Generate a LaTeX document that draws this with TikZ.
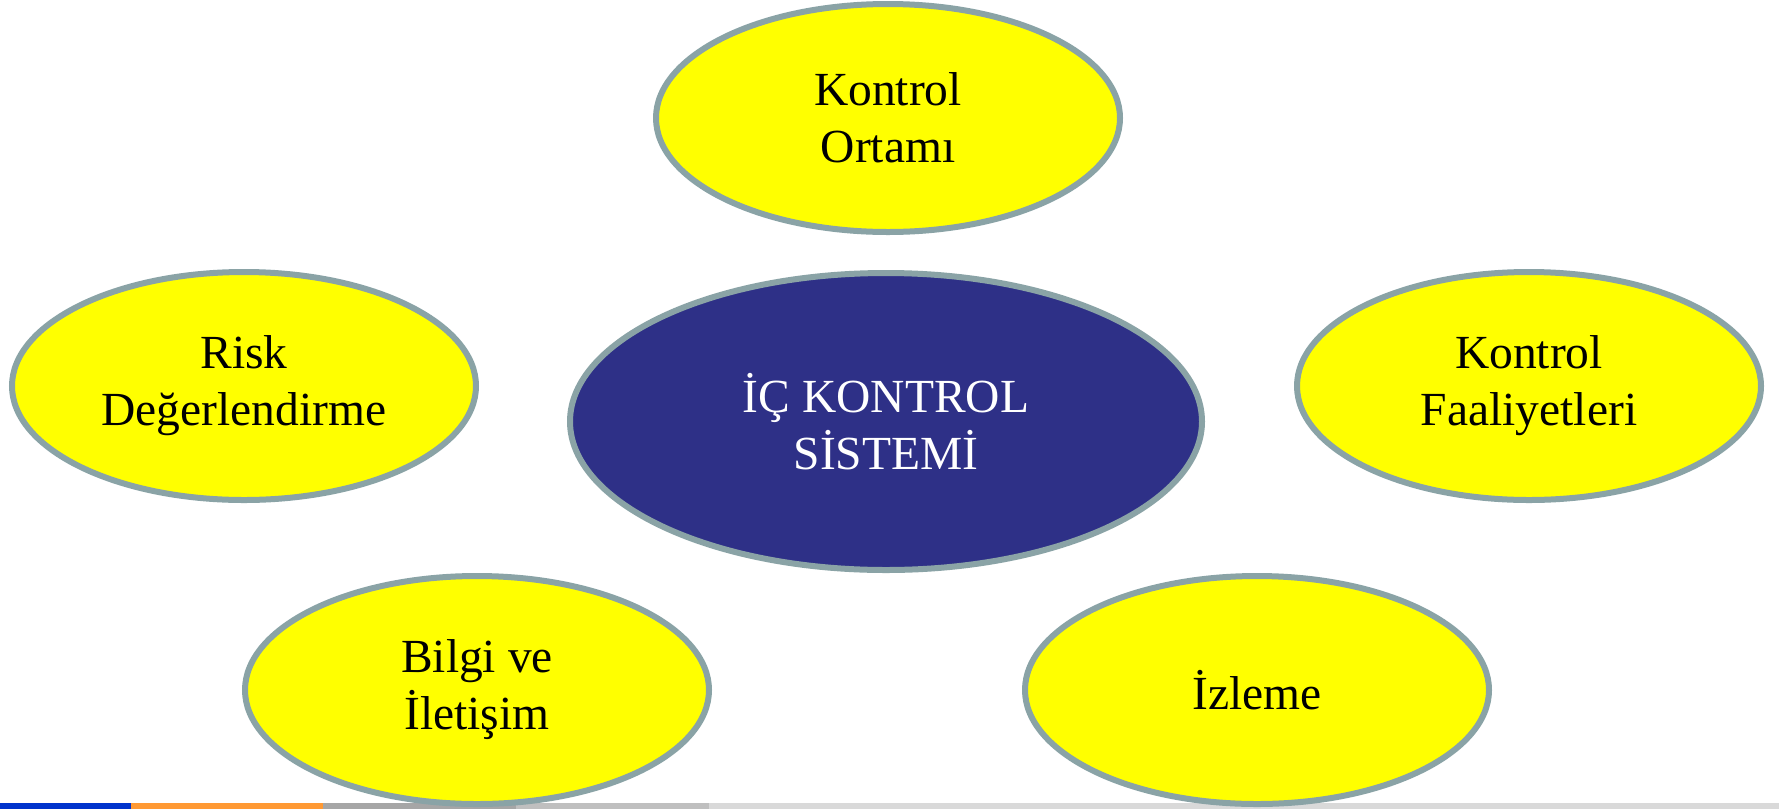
\documentclass[tikz,border=0pt]{standalone}
\usepackage{fontspec}
\setmainfont{Liberation Serif}
\usetikzlibrary{shapes.geometric}
\definecolor{rimc}{HTML}{8AA3A6}
\definecolor{yelc}{HTML}{FFFF00}
\definecolor{navyc}{HTML}{2E3087}
\definecolor{barblue}{HTML}{0033CC}
\definecolor{barorange}{HTML}{FF9933}
\definecolor{bargray}{HTML}{A6A6A6}
\definecolor{bargrayb}{HTML}{BFBFBF}
\definecolor{bargrayc}{HTML}{D9D9D9}
\tikzset{
  oval/.style={ellipse, draw=rimc, line width=6pt, inner sep=0pt, align=center,
    font=\fontsize{47.5}{57}\selectfont},
  sideoval/.style={oval, fill=yelc, text=black, minimum width=464pt, minimum height=228pt},
  coreoval/.style={oval, fill=navyc, text=white, minimum width=632pt, minimum height=297pt},
}
\begin{document}
\begin{tikzpicture}[x=1pt,y=-1pt]
\useasboundingbox (0,0) rectangle (1779,809);
\fill[white] (0,0) rectangle (1779,809);
% bottom bar
\fill[barblue] (0,803) rectangle (131,809);
\fill[barorange] (131,803) rectangle (323,809);
\fill[bargray] (323,803) rectangle (516,809);
\fill[bargrayb] (516,803) rectangle (709,809);
\fill[bargrayc] (709,803) rectangle (1779,809);
% ellipses
\node[sideoval] (ortam) at (888,118) {Kontrol\\Ortamı};
\node[coreoval] (core) at (886,421.5) {İÇ KONTROL\\SİSTEMİ};
\node[sideoval] (risk) at (244,386) {Risk\\Değerlendirme};
\node[sideoval] (faal) at (1529,386) {Kontrol\\Faaliyetleri};
\node[sideoval] (bilgi) at (477,690) {Bilgi ve\\İletişim};
\node[sideoval] (izle) at (1257,690) {İzleme};
\end{tikzpicture}
\end{document}
